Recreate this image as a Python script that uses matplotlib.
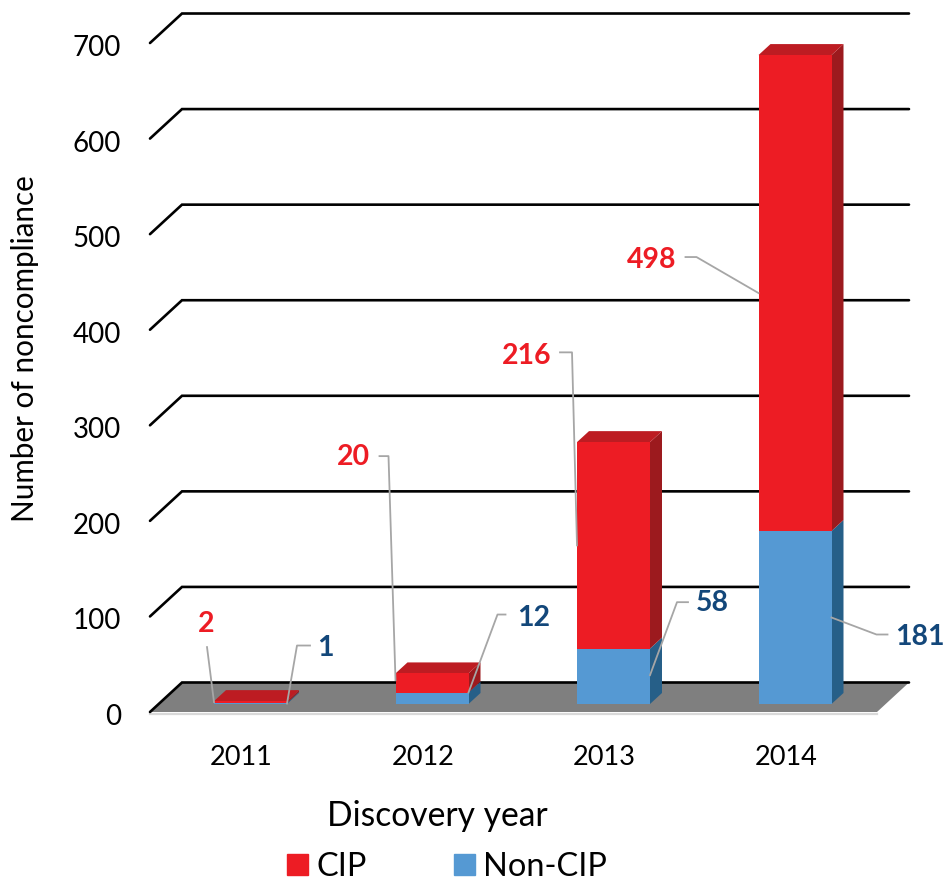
import numpy as np
import matplotlib
matplotlib.use("Agg")
import matplotlib.pyplot as plt
from matplotlib.patches import Polygon, Patch
from matplotlib.transforms import ScaledTranslation

plt.rcParams['font.family'] = ['Lato', 'DejaVu Sans']

years = ["2011", "2012", "2013", "2014"]
cip = [2, 20, 216, 498]
non_cip = [1, 12, 58, 181]
y_ticks = [0, 100, 200, 300, 400, 500, 600, 700]

RED, RED_TOP, RED_SIDE = "#ED1C24", "#BD1C22", "#9C1A1E"
BLUE, BLUE_SIDE = "#5599D3", "#265F88"
LABEL_RED, LABEL_BLUE = "#ED1C24", "#13477A"
LEADER = "#a6a6a6"

W, H = 944, 881
fig = plt.figure(figsize=(W / 100, H / 100), dpi=100)
# axes box is the grid area, left/right/top/bottom in pixels
L, R, T, B = 150, 909, 13, 712
ax = fig.add_axes([L / W, 1 - B / H, (R - L) / W, (B - T) / H])

UX = 181.5      # px per category
UY = 0.9557     # px per value
ax.set_xlim((L - 241.5) / UX, (R - 241.5) / UX)
ax.set_ylim(0, (B - T) / UY)


def px(d):
    return d / UX


def py(d):
    return d / UY


# floor
fdx, fdy = px(32), py(29.5)
x0, x1 = ax.get_xlim()
ax.add_patch(Polygon([(x0, 0), (x1 - fdx, 0), (x1, fdy), (x0 + fdx, fdy)],
                     fc="#7f7f7f", ec="none", zorder=1, clip_on=False))
ax.plot([x0, x1 - fdx], [py(-1.5), py(-1.5)], color="#d9d9d9", lw=1.6, zorder=1, clip_on=False)

# grid lines go up the side wall and along the back
for v in y_ticks:
    ax.plot([x0, x0 + fdx, x1], [v, v + fdy, v + fdy], color="black", lw=1.9,
            zorder=2, clip_on=False, solid_capstyle="round", solid_joinstyle="miter")

# bars
pos = np.arange(len(years)) + px(9)
width = px(73)
base = py(8)
ddx, ddy = px(12), py(11)
bottom_blue = np.full(len(years), base)
bottom_red = bottom_blue + np.array(non_cip)
ax.bar(pos, non_cip, width, bottom=bottom_blue, color=BLUE, ec="none", zorder=4, clip_on=False)
ax.bar(pos, cip, width, bottom=bottom_red, color=RED, ec="none", zorder=4, clip_on=False)

for i in range(len(years)):
    right = pos[i] + width / 2
    left = pos[i] - width / 2
    b0, b1 = bottom_blue[i], bottom_red[i]
    top = b1 + cip[i]
    ax.add_patch(Polygon([(right, b0), (right + ddx, b0 + ddy), (right + ddx, b1 + ddy), (right, b1)],
                         fc=BLUE_SIDE, ec="none", zorder=3, clip_on=False))
    ax.add_patch(Polygon([(right, b1), (right + ddx, b1 + ddy), (right + ddx, top + ddy), (right, top)],
                         fc=RED_SIDE, ec="none", zorder=3, clip_on=False))
    ax.add_patch(Polygon([(left, top), (left + ddx, top + ddy), (right + ddx, top + ddy), (right, top)],
                         fc=RED_TOP, ec="none", zorder=3, clip_on=False))


def leader(i, series, side, frac, elbow, start, text, s):
    # offsets are px from the point where the line meets the bar
    edge = pos[i] + (width / 2 if side == "r" else -width / 2)
    if series == "cip":
        yy = bottom_red[i] + frac * cip[i]
        col = LABEL_RED
    else:
        yy = bottom_blue[i] + frac * non_cip[i]
        col = LABEL_BLUE
    xs = [edge + px(start[0])]
    ys = [yy + py(start[1])]
    if elbow is not None:
        xs.append(edge + px(elbow[0]))
        ys.append(yy + py(elbow[1]))
    xs.append(edge)
    ys.append(yy)
    ax.plot(xs, ys, color=LEADER, lw=1.3, zorder=5, clip_on=False)
    ax.text(edge + px(text[0]), yy + py(text[1]), s, color=col, fontsize=20.5, fontweight="bold",
            ha="center", va="center", zorder=6, clip_on=False)


leader(0, "cip", "l", 0.5, None, (-7, 55), (-8, 78), str(cip[0]))
leader(0, "non", "r", 0.5, (10, 58), (23, 58), (38, 56), str(non_cip[0]))
leader(1, "cip", "l", 0.65, (-7, 224), (-16, 224), (-42, 223), str(cip[1]))
leader(1, "non", "r", 1.0, (29, 78), (37, 78), (65, 75), str(non_cip[1]))
leader(2, "cip", "l", 0.5, (-5, 193), (-17, 193), (-50, 189), str(cip[2]))
leader(2, "non", "r", 0.52, (27, 73), (38, 73), (62, 72), str(non_cip[2]))
leader(3, "cip", "l", 0.5, (-62, 36), (-73, 36), (-107, 33), str(cip[3]))
leader(3, "non", "r", 0.5, (45, -17), (56, -17), (88, -19), str(non_cip[3]))

# axes furniture
for sp in ax.spines.values():
    sp.set_visible(False)
ax.patch.set_visible(False)
ax.set_yticks(y_ticks)
ax.set_xticks(np.arange(len(years)))
ax.set_xticklabels(years)
ax.tick_params(axis="y", length=0, pad=21, labelsize=20)
ax.tick_params(axis="x", length=0, pad=24, labelsize=19.5)
# y labels sit a little under their lines
shift = ScaledTranslation(0, -2.5 / 100, fig.dpi_scale_trans)
for lab in ax.get_yticklabels():
    lab.set_transform(lab.get_transform() + shift)
ax.set_xlabel("Discovery year", fontsize=24.2)
ax.xaxis.set_label_coords((437 - L) / (R - L), (B - 816) / (B - T), transform=ax.transAxes)
ax.xaxis.label.set_va("center")
ax.set_ylabel("Number of noncompliance", fontsize=21.3)
ax.yaxis.set_label_coords((25 - L) / (R - L), (B - 349) / (B - T), transform=ax.transAxes)
ax.yaxis.label.set_va("center")

ax.legend(handles=[Patch(color=RED, label="CIP"), Patch(color=BLUE, label="Non-CIP")],
          ncols=2, frameon=False, fontsize=23.4, loc="center left",
          bbox_to_anchor=((287 - L) / (R - L), (B - 867) / (B - T)),
          handlelength=0.65, handleheight=0.65, handletextpad=0.25, columnspacing=2.68,
          borderpad=0, borderaxespad=0)

fig.savefig("out.png", dpi=100, facecolor="white")
